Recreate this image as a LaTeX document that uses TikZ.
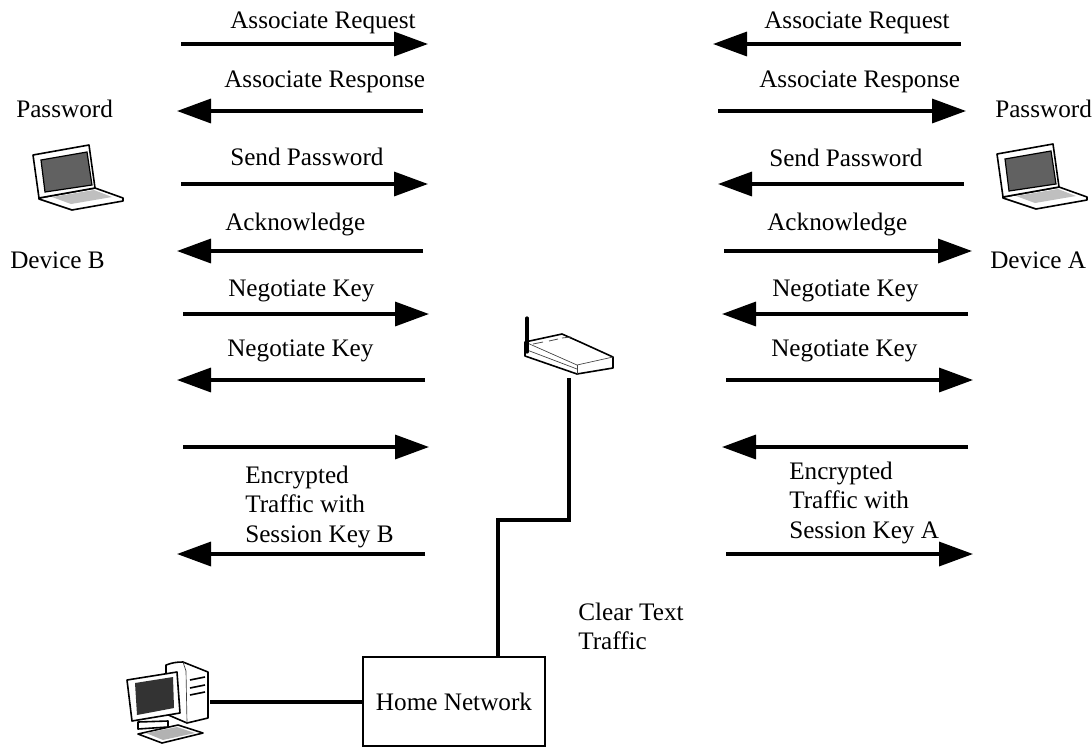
\documentclass[tikz,border=0pt]{standalone}
\usepackage{fontspec}
\setmainfont{Liberation Serif}
\usetikzlibrary{arrows.meta,calc}
\tikzset{
  x=0.75pt,y=-0.75pt,
  lbl/.style={anchor=base west,inner sep=0pt,yshift=-0.75pt,font=\fontsize{18.9}{21}\selectfont},
  flow/.style={line width=2.6pt,-{Triangle[length=25.5pt,width=18pt]}},
  wire/.style={line width=2.6pt},
  outl/.style={draw=black,line width=1.2pt,line join=round,fill=white},
  thin/.style={draw=black!75,line width=0.5pt},
  laptop/.pic={
    \draw[outl,fill=white] (39,198)--(95,188)--(123,198)--(123,201)--(72,210)--(39,199)--cycle;
    \fill[black!25] (52,197)--(94,190)--(112,197)--(71,204)--cycle;
    \draw[outl] (33,155)--(89,145)--(95,188)--(39,198)--cycle;
    \draw[draw=black,line width=0.9pt,fill=black!62] (41,160)--(87,152)--(92,185)--(45,192)--cycle;
  },
}
\begin{document}
\begin{tikzpicture}
\useasboundingbox (0,0) rectangle (1092,747);
% endpoints of the flows
\foreach \n/\xa/\xb/\yy in {
  a1/181/428/44,a2/423/177/111,a3/181/428/184,a4/423/177/251,
  a5/183/429/314,a6/425/177/380,a7/183/429/447,a8/425/177/554,
  b1/961/713/44,b2/718/966/111,b3/964/718/184,b4/724/972/251,
  b5/968/722/314,b6/726/973/380,b7/968/722/447,b8/726/973/554}{
  \coordinate (\n s) at (\xa,\yy);
  \coordinate (\n e) at (\xb,\yy);
  \draw[flow] (\n s) -- (\n e);
}
% labels left
\node[lbl] (t1) at (230,27) {Associate Request};
\node[lbl] (t2) at (224,86) {Associate Response};
\node[lbl] (t3) at (230,164) {Send Password};
\node[lbl] (t4) at (225,229) {Acknowledge};
\node[lbl] (t5) at (228,295) {Negotiate Key};
\node[lbl] (t6) at (227,355) {Negotiate Key};
\node[lbl] (t7) at (245,482) {Encrypted};
\node[lbl] (t8) at (245,511) {Traffic with};
\node[lbl] (t9) at (245,541) {Session Key B};
\node[lbl] (pb) at (16,116) {Password};
\node[lbl] (db) at (10,267) {Device B};
% labels right
\node[lbl] (r1) at (764,27) {Associate Request};
\node[lbl] (r2) at (759,86) {Associate Response};
\node[lbl] (r3) at (769,165) {Send Password};
\node[lbl] (r4) at (767,229) {Acknowledge};
\node[lbl] (r5) at (772,295) {Negotiate Key};
\node[lbl] (r6) at (771,355) {Negotiate Key};
\node[lbl] (r7) at (789,478) {Encrypted};
\node[lbl] (r8) at (789,507) {Traffic with};
\node[lbl] (r9) at (789,537) {Session Key A};
\node[lbl] (pa) at (995,116) {Password};
\node[lbl] (da) at (990,267) {Device A};
\node[lbl] (c1) at (578,619) {Clear Text};
\node[lbl] (c2) at (578,648) {Traffic};
% laptops
\pic {laptop};
\begin{scope}[xshift=723pt,yshift=0.75pt]
\pic {laptop};
\end{scope}
% router
\draw[outl] (525,342)--(562,334)--(580,342)--(613,357)--(613,368)--(577,374)--(525,356)--cycle;
\draw[thin] (525,342)--(577,365)--(613,357);
\draw[thin] (577,365)--(577,374);
\draw[thin] (527,350)--(577,369);
\draw[line width=0.6pt,black!70] (533,344)--(543,342) (549,341)--(558,339) (562,338)--(571,337);
\draw[line width=2.4pt,line cap=round] (527,318)--(527,352);
\coordinate (rt) at (569,378);
% home network
\node[draw=black,line width=1pt,minimum width=136.5pt,minimum height=66.75pt,inner sep=0pt,
      font=\fontsize{18.9}{21}\selectfont] (hn) at (454,701.5) {Home Network};
\coordinate (hnt) at (498,657);
\coordinate (k1) at (569,520);
\coordinate (k2) at (498,520);
\draw[wire,line join=miter] (rt)--(k1)--(k2)--(hnt);
% computer
\draw[outl] (166,665) to[bend left=10] (183,662) -- (208,672)--(208,718)--(187,723)--(166,714)--cycle;
\draw[thin] (186,671)--(187,723);
\draw[thin] (183,662)--(186,671);
\draw[line width=1.2pt] (190,680)--(205,677) (190,688)--(205,685) (190,695)--(205,692);
\draw[outl] (138,722)--(168,721)--(168,727)--(138,729)--cycle;
\draw[outl] (127,680)--(177,672)--(180,713)--(132,721)--cycle;
\fill[black!80] (135,683)--(173,677)--(174,708)--(137,715)--cycle;
\draw[outl] (138,734)--(178,725)--(203,733)--(162,743)--cycle;
\fill[black!30] (146,733)--(177,727)--(195,733)--(163,740)--cycle;
\coordinate (pc) at (210,702);
\draw[wire] (pc) -- (hn.west |- pc);
\end{tikzpicture}
\end{document}
